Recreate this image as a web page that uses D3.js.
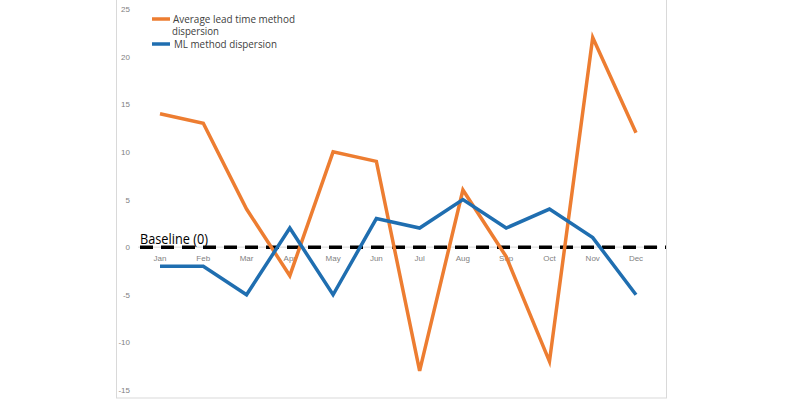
<!DOCTYPE html>
<html><head><meta charset="utf-8">
<script src="https://cdn.jsdelivr.net/npm/d3@7"></script>
<style>body{margin:0;background:#fff}svg{display:block}</style>
</head><body><svg id="c" width="800" height="400"></svg>
<script>
const months = ["Jan","Feb","Mar","Apr","May","Jun","Jul","Aug","Sep","Oct","Nov","Dec"];
const avgLead = [14,13,4,-3,10,9,-13,6,-1,-12,22,12];
const mlMethod = [-2,-2,-5,2,-5,3,2,5,2,4,1,-5];
const yTicks = [-15,-10,-5,0,5,10,15,20,25];
const seriesNames = ["Average lead time method dispersion","ML method dispersion"];
const baselineLabel = "Baseline (0)";

const svg = d3.select("#c");
svg.append("rect").attr("x",116.5).attr("y",-1).attr("width",550).attr("height",399)
  .attr("fill","#fff").attr("stroke","#d9d9d9").attr("stroke-width",1);

const x = d3.scalePoint().domain(months).range([160,636]);
const y = d3.scaleLinear().domain([-15,25]).range([390,9]);

svg.append("g").selectAll("text").data(yTicks).join("text")
  .attr("x",130).attr("y",d=>y(d)+3).attr("text-anchor","end")
  .attr("font-family","Liberation Sans, Arial").attr("font-size",8).attr("fill","#7f7f7f")
  .text(d=>d);

svg.append("line").attr("x1",138).attr("x2",658).attr("y1",y(0)).attr("y2",y(0))
  .attr("stroke","#d9d9d9").attr("stroke-width",1);

svg.append("g").selectAll("text").data(months).join("text")
  .attr("x",d=>x(d)).attr("y",y(0)+14).attr("text-anchor","middle")
  .attr("font-family","Liberation Sans, Arial").attr("font-size",8).attr("fill","#7f7f7f")
  .text(d=>d);

svg.append("line").attr("x1",140).attr("x2",666).attr("y1",y(0)).attr("y2",y(0))
  .attr("stroke","#000").attr("stroke-width",3.5).attr("stroke-dasharray","13,8");

const line = d3.line().x((d,i)=>x(months[i])).y(d=>y(d));
svg.append("path").datum(avgLead).attr("d",line).attr("fill","none")
  .attr("stroke","#ED7D31").attr("stroke-width",3.5).attr("stroke-linejoin","miter");
svg.append("path").datum(mlMethod).attr("d",line).attr("fill","none")
  .attr("stroke","#1F6EB0").attr("stroke-width",3.5).attr("stroke-linejoin","miter");

svg.append("text").attr("x",140).attr("y",244).attr("font-family","Open Sans, Liberation Sans")
  .attr("font-size",15).attr("fill","#000")
  .attr("textLength",68).attr("lengthAdjust","spacingAndGlyphs").text(baselineLabel);

const lg = svg.append("g").attr("font-family","Open Sans, Liberation Sans").attr("font-size",10.5).attr("fill","#404040");
lg.append("line").attr("x1",152).attr("x2",170).attr("y1",19).attr("y2",19).attr("stroke","#ED7D31").attr("stroke-width",3.5);
lg.append("text").attr("x",173).attr("y",22.5).attr("textLength",122).attr("lengthAdjust","spacingAndGlyphs").text("Average lead time method");
lg.append("text").attr("x",172).attr("y",35).attr("textLength",47).attr("lengthAdjust","spacingAndGlyphs").text("dispersion");
lg.append("line").attr("x1",152).attr("x2",170).attr("y1",44).attr("y2",44).attr("stroke","#1F6EB0").attr("stroke-width",3.5);
lg.append("text").attr("x",174).attr("y",48).attr("textLength",103).attr("lengthAdjust","spacingAndGlyphs").text(seriesNames[1]);
</script></body></html>
